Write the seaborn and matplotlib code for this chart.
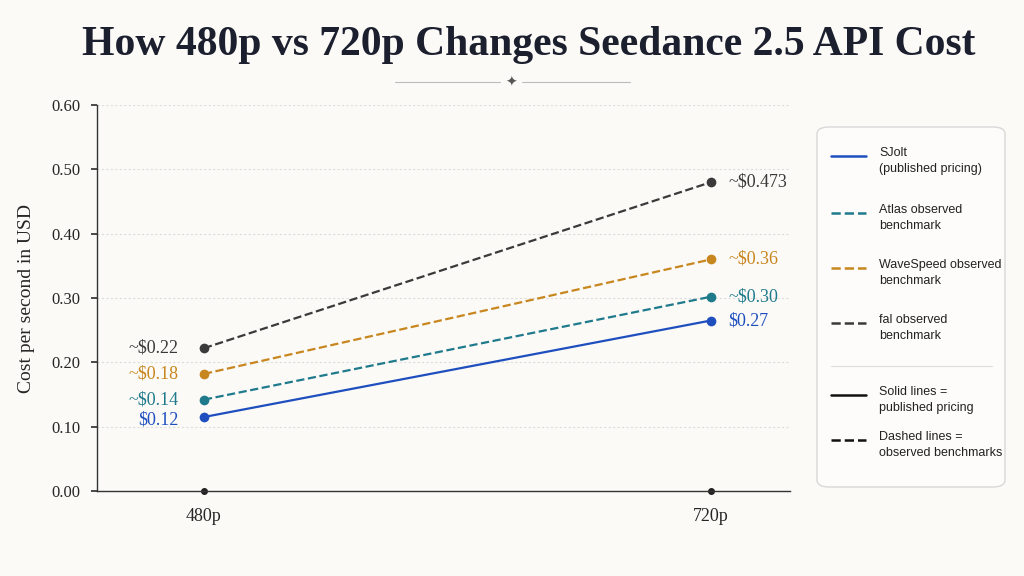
import matplotlib
matplotlib.use("Agg")
import matplotlib.pyplot as plt
import seaborn as sns
import pandas as pd
from matplotlib.patches import FancyBboxPatch
from matplotlib.lines import Line2D

resolutions = ["480p", "720p"]
sjolt = [0.115, 0.265]
atlas = [0.142, 0.302]
wavespeed = [0.182, 0.360]
fal = [0.222, 0.480]
labels_sjolt = ["$0.12", "$0.27"]
labels_atlas = ["~$0.14", "~$0.30"]
labels_wave = ["~$0.18", "~$0.36"]
labels_fal = ["~$0.22", "~$0.473"]
yticks = [0.0, 0.1, 0.2, 0.3, 0.4, 0.5, 0.6]

sns.set_theme(style="white")
plt.rcParams['font.family'] = ['Liberation Serif', 'DejaVu Serif']
bg = "#fbfaf7"
fig = plt.figure(figsize=(10.24, 5.76), dpi=100, facecolor=bg)
ax = fig.add_axes([97/1024, 1-491/576, 693/1024, 386/576], facecolor=bg)

series = [
    ("SJolt", sjolt, labels_sjolt, "#1f4fbf", "-"),
    ("Atlas", atlas, labels_atlas, "#1f7a8c", "--"),
    ("WaveSpeed", wavespeed, labels_wave, "#c8861e", "--"),
    ("fal", fal, labels_fal, "#3a3a3a", "--"),
]
rows = []
for name, vals, _, _, _ in series:
    for i, v in enumerate(vals):
        rows.append({"series": name, "x": i, "y": v})
df = pd.DataFrame(rows)
for name, vals, labs, col, ls in series:
    sub = df[df.series == name]
    sns.lineplot(data=sub, x="x", y="y", ax=ax, color=col, linestyle=ls, lw=1.6,
                 marker="o", markersize=7, markeredgewidth=0, legend=False)
    dy = -0.005 if name == "SJolt" else 0
    ax.text(-0.05, vals[0] + dy, labs[0], ha="right", va="center", color=col, fontsize=13)
    ax.text(1.035, vals[1], labs[1], ha="left", va="center", color=col, fontsize=13)

ax.set_xlim(-0.211, 1.156)
ax.set_ylim(0, 0.6)
ax.set_xticks([0, 1])
ax.set_xticklabels(resolutions, fontsize=13)
ax.set_yticks(yticks)
ax.set_yticklabels([f"{t:.2f}" for t in yticks], fontsize=12)
ax.plot([0, 1], [0, 0], "o", color="#222", markersize=4, clip_on=False)
ax.grid(axis="y", color="#dddddd", linestyle=(0, (2, 2)), lw=0.8)
ax.set_xlabel("")
ax.set_ylabel("Cost per second in USD", fontsize=14, labelpad=12)
for s in ["top", "right"]:
    ax.spines[s].set_visible(False)
for s in ["left", "bottom"]:
    ax.spines[s].set_color("#333")
    ax.spines[s].set_linewidth(1)
ax.tick_params(axis="both", length=4, color="#333", bottom=False, left=True, pad=8)

fig.text(0.516, 1-45/576, "How 480p vs 720p Changes Seedance 2.5 API Cost",
         ha="center", va="center", fontsize=30, fontweight="bold", color="#1b1f2e")
fig.add_artist(Line2D([395/1024, 500/1024], [1-82/576]*2, color="#bbb", lw=0.8))
fig.add_artist(Line2D([522/1024, 630/1024], [1-82/576]*2, color="#bbb", lw=0.8))
fig.text(511/1024, 1-83/576, "✦", ha="center", va="center", fontsize=10, color="#555",
         family=["DejaVu Sans"])

# legend
box = FancyBboxPatch((817/1024, 1-487/576), 188/1024, 360/576,
                     boxstyle="round,pad=0,rounding_size=0.012", transform=fig.transFigure,
                     facecolor="#fdfcfa", edgecolor="#d8d8d8", lw=1)
fig.add_artist(box)
sans = ["Liberation Sans", "DejaVu Sans"]
entries = [
    (1-163/576, "#1f4fbf", "-", "SJolt\n(published pricing)"),
    (1-220/576, "#1f7a8c", "--", "Atlas observed\nbenchmark"),
    (1-275/576, "#c8861e", "--", "WaveSpeed observed\nbenchmark"),
    (1-330/576, "#3a3a3a", "--", "fal observed\nbenchmark"),
    (1-402/576, "#111111", "-", "Solid lines =\npublished pricing"),
    (1-447/576, "#111111", "--", "Dashed lines =\nobserved benchmarks"),
]
for y, col, ls, txt in entries:
    fig.add_artist(Line2D([831/1024, 866/1024], [y + 0.012]*2, color=col, linestyle=ls, lw=1.8))
    fig.text(879/1024, y + 0.028, txt, ha="left", va="top", fontsize=9, color="#222",
             family=sans, linespacing=1.45)
fig.add_artist(Line2D([831/1024, 992/1024], [1-366/576]*2, color="#ddd", lw=0.8))

fig.savefig("out.png", dpi=100, facecolor=bg)
